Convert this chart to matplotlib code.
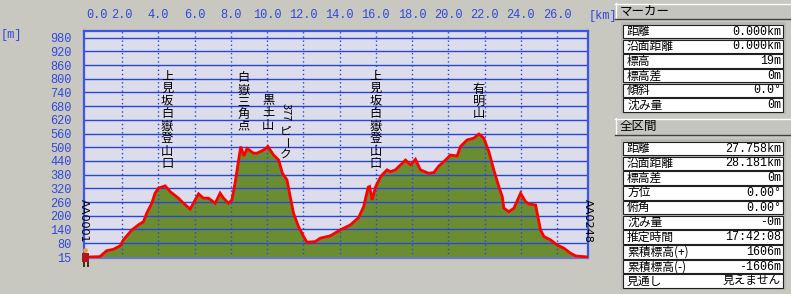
import matplotlib
matplotlib.use('Agg')
import matplotlib.pyplot as plt
from matplotlib.patches import Rectangle, Circle

plt.rcParams['font.family'] = ['Noto Sans CJK JP', 'DejaVu Sans']

# ---------------- data ----------------
distance_km = [0.00, 0.78, 1.15, 1.52, 1.89, 2.07, 2.54, 2.90, 3.18, 3.36, 3.64, 3.82,
               4.01, 4.38, 4.65, 5.11, 5.39, 5.76, 6.03, 6.22, 6.49, 6.77, 7.14, 7.41,
               7.60, 7.87, 8.06, 8.24, 8.43, 8.55, 8.72, 8.90, 9.25, 9.44, 9.81, 10.05,
               10.36, 10.64, 10.85, 11.10, 11.28, 11.46, 11.74, 12.02, 12.20, 12.66, 12.94,
               13.49, 14.04, 14.60, 15.05, 15.33, 15.58, 15.66, 15.80, 15.98, 16.22, 16.35,
               16.62, 16.81, 17.08, 17.64, 17.91, 18.19, 18.46, 18.92, 19.20, 19.48, 19.85,
               20.12, 20.49, 20.67, 21.04, 21.41, 21.69, 21.96, 22.24, 22.51, 22.79, 22.98,
               23.07, 23.34, 23.62, 23.99, 24.26, 24.45, 24.82, 25.09, 25.28, 25.65, 26.01,
               26.38, 26.75, 27.03, 27.758]
elevation_m = [19, 21, 47, 53, 68, 94, 138, 160, 174, 211, 255, 299,
               321, 331, 306, 277, 255, 229, 269, 296, 277, 277, 255, 299,
               277, 255, 269, 345, 444, 503, 462, 495, 474, 474, 488, 503,
               466, 444, 386, 357, 284, 211, 152, 109, 84, 87, 102,
               112, 138, 160, 192, 240, 325, 328, 269, 325, 364, 379,
               401, 393, 401, 444, 423, 447, 401, 386, 389, 418, 444,
               466, 462, 503, 532, 540, 558, 540, 481, 401, 328, 284,
               233, 218, 233, 299, 262, 252, 247, 138, 109, 94, 72,
               58, 36, 24, 19]

x_ticks = [0, 2, 4, 6, 8, 10, 12, 14, 16, 18, 20, 22, 24, 26]
x_tick_labels = ['0.0', '2.0', '4.0', '6.0', '8.0', '10.0', '12.0', '14.0', '16.0',
                 '18.0', '20.0', '22.0', '24.0', '26.0']
y_ticks = [15, 80, 140, 200, 260, 320, 380, 440, 500, 560, 620, 680, 740, 800, 860, 920, 980]
y_tick_labels = [str(v) for v in y_ticks]

landmark_km = [4.49, 8.70, 10.07, 11.0, 16.0, 21.7]
landmark_names = ['上見坂白嶽登山口', '白嶽三角点', '黒土山', '377ピーク', '上見坂白嶽登山口', '有明山']
start_label = 'AA0001'
end_label = 'AA0248'

marker_labels = ['距離', '沿面距離', '標高', '標高差', '傾斜', '沈み量']
marker_values = ['0.000km', '0.000km', '19m', '0m', '0.0°', '0m']
total_labels = ['距離', '沿面距離', '標高差', '方位', '俯角', '沈み量', '推定時間',
                '累積標高(+)', '累積標高(-)', '見通し']
total_values = ['27.758km', '28.181km', '0m', '0.00°', '0.00°', '-0m', '17:42:08',
                '1606m', '-1606m', '見えません']

# ---------------- style ----------------
W, H = 791, 294
BG = '#c8c8c0'
PLOT_BG = '#dcdcea'
BLUE = '#2a46d8'
TICK_BLUE = '#3048e0'
GREEN = '#6b8d32'
RED = '#ff0000'
MONO = ['Liberation Mono', 'DejaVu Sans Mono']

fig = plt.figure(figsize=(W / 100, H / 100), dpi=100)
fig.patch.set_facecolor(BG)

AX_L, AX_R, AX_T, AX_B = 84, 588, 31, 258
ax = fig.add_axes([AX_L / W, 1 - AX_B / H, (AX_R - AX_L) / W, (AX_B - AX_T) / H])
ax.set_facecolor(PLOT_BG)
ax.set_xlim(-0.1, 27.71)
ax.set_ylim(15, 1009)

ax.fill_between(distance_km, elevation_m, 15, color=GREEN, lw=0, zorder=1)
ax.plot(distance_km, elevation_m, color=RED, lw=2, zorder=3, solid_joinstyle='miter')

for v in y_ticks[1:]:
    ax.axhline(v, color=BLUE, lw=1, zorder=2)
for v in x_ticks[1:]:
    ax.axvline(v, color=BLUE, lw=1, ls=(0, (1, 2)), zorder=2)

ax.xaxis.tick_top()
ax.set_xticks(x_ticks)
ax.set_xticklabels(x_tick_labels, family=MONO, fontsize=8.6, color=TICK_BLUE)
ax.get_xticklabels()[0].set_ha('left')
ax.set_yticks(y_ticks)
ax.set_yticklabels(y_tick_labels, family=MONO, fontsize=8.6, color=TICK_BLUE)
ax.tick_params(axis='x', length=0, pad=7)
ax.tick_params(axis='y', length=0, pad=9)
for s in ax.spines.values():
    s.set_color('#3a56e8')
    s.set_linewidth(1.6)
ax.spines['bottom'].set_color('#6a78c0')

fig.text(11 / W, 1 - 35 / H, '[m]', family=MONO, fontsize=8.6, color=TICK_BLUE,
         ha='center', va='center')
fig.text(603 / W, 1 - 16 / H, '[km]', family=MONO, fontsize=8.6, color=TICK_BLUE,
         ha='center', va='center')


def vtext(xkm, top_px, text, step=12.5, size=8.8):
    for i, ch in enumerate(text):
        yoff = -(top_px - AX_T) - step / 2 - i * step
        ax.annotate(ch, xy=(xkm, 1.0), xycoords=('data', 'axes fraction'),
                    xytext=(0, yoff), textcoords='offset pixels',
                    ha='center', va='center', fontsize=size, color='black', zorder=5)


tops = [70, 72, 93, None, 70, 83]
steps = [12.5, 12, 13, None, 12.5, 12]
for km, name, top, st in zip(landmark_km, landmark_names, tops, steps):
    if top is not None:
        vtext(km, top, name, step=st)

# 377ピーク (mixed vertical writing)
km = landmark_km[3]
name = landmark_names[3]
parts = [(name[:3], 112.5, -90, 8.0), (name[3], 131.5, 0, 8.4),
         (name[4], 142.5, -90, 8.4), (name[5], 154, 0, 8.4)]
for txt, yc, rot, fs in parts:
    ax.annotate(txt, xy=(km, 1.0), xycoords=('data', 'axes fraction'),
                xytext=(0, -(yc - AX_T)), textcoords='offset pixels',
                ha='center', va='center', fontsize=fs, rotation=rot, color='black', zorder=5)

for km, lab in [(-0.1, start_label), (27.7, end_label)]:
    ax.annotate(lab, xy=(km, 1.0), xycoords=('data', 'axes fraction'),
                xytext=(0, -(221 - AX_T)), textcoords='offset pixels',
                ha='center', va='center', fontsize=8, rotation=-90, color='black',
                family='DejaVu Sans', zorder=6)

# ---------------- overlay (panel + hiker) ----------------
ov = fig.add_axes([0, 0, 1, 1], zorder=10)
ov.set_xlim(0, W)
ov.set_ylim(H, 0)
ov.axis('off')
ov.patch.set_alpha(0)

# hiker icon
ov.add_patch(Rectangle((82, 253), 7, 9, fc='#b01820', ec='none'))
ov.add_patch(Circle((85.5, 250.5), 2.4, fc='#e8a040', ec='none'))
ov.add_patch(Rectangle((82.5, 262), 2, 5, fc='#403020', ec='none'))
ov.add_patch(Rectangle((86.5, 262), 2, 5, fc='#403020', ec='none'))


def header(y0, y1, text):
    ov.add_patch(Rectangle((615, y0), 180, y1 - y0, fc='#c4c4c0', ec='none'))
    ov.plot([615, 795], [y0 + 0.5, y0 + 0.5], color='white', lw=1)
    ov.plot([615.5, 615.5], [y0, y1], color='white', lw=1)
    ov.plot([615, 795], [y1 - 0.5, y1 - 0.5], color='#404040', lw=1)
    ov.text(620, (y0 + y1) / 2, text, fontsize=9, va='center', ha='left', color='black')


def table(top, step, labels, values):
    n = len(labels)
    ov.add_patch(Rectangle((621, top - 2), 165, n * step + 3, fc='#b8b8b4', ec='none'))
    for i, (lab, val) in enumerate(zip(labels, values)):
        y0 = top + i * step
        ov.add_patch(Rectangle((623, y0 + 0.5), 160, step - 1.2, fc='white',
                               ec='#202020', lw=0.8))
        yc = y0 + step / 2
        ov.text(627, yc, lab, fontsize=8.5, va='center', ha='left', color='black')
        ov.text(781, yc, val, fontsize=8.4, va='center', ha='right', color='black',
                family=MONO + ['Noto Sans CJK JP'])


header(3, 19, 'マーカー')
table(24.3, 14.7, marker_labels, marker_values)
header(118, 135, '全区間')
table(141.3, 14.74, total_labels, total_values)

fig.savefig('out.png', dpi=100, facecolor=BG)
